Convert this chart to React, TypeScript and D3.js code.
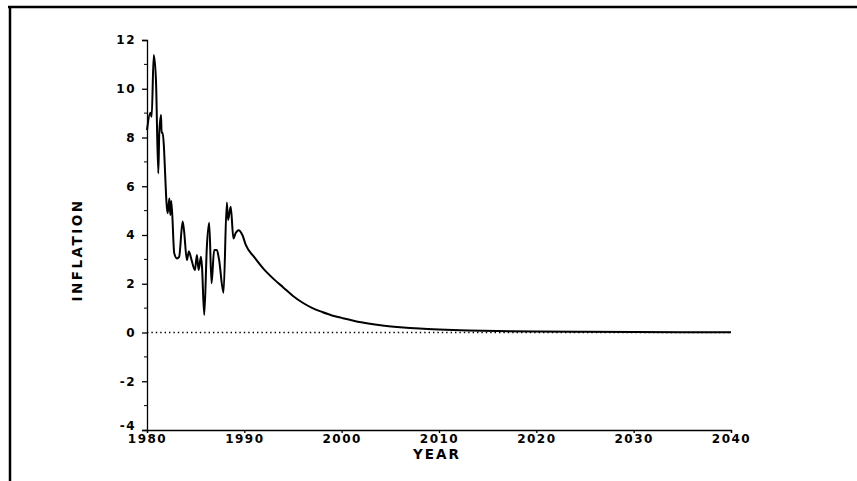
import React, { useEffect, useRef } from "react";
import * as d3 from "d3";

// year (decimal) and inflation readings
const years = [
  1980.0, 1980.34, 1980.48, 1980.69, 1980.92, 1981.16, 1981.26, 1981.44, 1981.5, 1981.6,
  1982.12, 1982.3, 1982.4, 1982.5, 1982.8, 1983.08, 1983.3, 1983.66, 1983.8, 1984.1,
  1984.3, 1984.58, 1984.92, 1985.13, 1985.3, 1985.54, 1985.65, 1985.88, 1986.15, 1986.39,
  1986.63, 1986.9, 1987.18, 1987.4, 1987.86, 1988.2, 1988.33, 1988.6, 1988.88, 1989.1,
  1989.4, 1989.8, 1990.15, 1991, 1992, 1993, 1994, 1995, 1996, 1997,
  1998, 1999, 2000, 2002, 2004, 2006, 2008, 2010, 2013, 2016,
  2020, 2025, 2030, 2035, 2040,
];
const inflation = [
  8.3, 9.02, 8.85, 11.38, 10.36, 6.53, 8.17, 8.92, 8.18, 8.2,
  4.89, 5.5, 4.82, 5.4, 3.25, 3.04, 3.1, 4.55, 4.2, 2.97,
  3.32, 2.97, 2.56, 3.18, 2.56, 3.11, 2.7, 0.72, 3.52, 4.5,
  2.02, 3.38, 3.38, 3.0, 1.63, 5.33, 4.62, 5.16, 3.86, 4.07,
  4.2, 4.0, 3.59, 3.1, 2.6, 2.2, 1.85, 1.5, 1.22, 1.0,
  0.84, 0.7, 0.6, 0.42, 0.3, 0.22, 0.16, 0.12, 0.08, 0.06,
  0.04, 0.03, 0.02, 0.015, 0.01,
];
const xTicks = [1980, 1990, 2000, 2010, 2020, 2030, 2040];
const yTicks = [-4, -2, 0, 2, 4, 6, 8, 10, 12];
const yMinor = [-3, -1, 1, 3, 5, 7, 9, 11];

export default function App() {
  const svgRef = useRef<SVGSVGElement>(null);

  useEffect(() => {
    const svg = d3.select(svgRef.current);
    svg.selectAll("*").remove();

    const x = d3.scaleLinear().domain([1980, 2040]).range([147, 731]);
    const y = d3.scaleLinear().domain([-4, 12]).range([430, 40]);
    const font = "'DejaVu Sans', Arial, sans-serif";

    // frame
    svg.append("line").attr("x1", 8).attr("x2", 857).attr("y1", 7).attr("y2", 7)
      .attr("stroke", "#000").attr("stroke-width", 2.5);
    svg.append("line").attr("x1", 10).attr("x2", 10).attr("y1", 6).attr("y2", 481)
      .attr("stroke", "#000").attr("stroke-width", 2.5);

    // zero reference
    svg.append("line").attr("x1", x(1980)).attr("x2", x(2040)).attr("y1", y(0)).attr("y2", y(0))
      .attr("stroke", "#000").attr("stroke-width", 1.4).attr("stroke-dasharray", "1.4,3");

    // y axis
    const yAxis = d3.axisLeft(y).tickValues(yTicks).tickSize(5).tickPadding(6)
      .tickFormat((d) => `${d}`);
    const gy = svg.append("g").attr("transform", `translate(${x(1980)},0)`).call(yAxis);
    gy.select(".domain").attr("stroke-width", 1.3);
    gy.selectAll(".tick line").attr("stroke-width", 1.3);
    gy.selectAll("text").attr("font-family", font).attr("font-weight", "bold")
      .attr("font-size", 12).attr("letter-spacing", 1.5)
      .attr("dy", (d: any) => (d === -4 ? "-0.08em" : "0.32em"));
    gy.selectAll(".minor").data(yMinor).enter().append("line")
      .attr("x1", -3).attr("x2", 0).attr("y1", (d) => y(d)).attr("y2", (d) => y(d))
      .attr("stroke", "#000").attr("stroke-width", 1);

    // x axis
    const xAxis = d3.axisBottom(x).tickValues(xTicks).tickSize(3).tickPadding(1)
      .tickFormat((d) => `${d}`);
    const gx = svg.append("g").attr("transform", `translate(0,${y(-4)})`).call(xAxis);
    gx.select(".domain").attr("stroke-width", 1.3);
    gx.selectAll(".tick line").attr("stroke-width", 1.3);
    gx.selectAll("text").attr("font-family", font).attr("font-weight", "bold")
      .attr("font-size", 12).attr("letter-spacing", 1.5);

    // axis titles
    svg.append("text").attr("x", x(2010) - 2).attr("y", 459).attr("text-anchor", "middle")
      .attr("font-family", font).attr("font-weight", "bold").attr("font-size", 13.5)
      .attr("letter-spacing", 2).text("YEAR");
    svg.append("text").attr("transform", `translate(82,250) rotate(-90)`)
      .attr("text-anchor", "middle").attr("font-family", font).attr("font-weight", "bold")
      .attr("font-size", 13.5).attr("letter-spacing", 2.5).text("INFLATION");

    // series
    const pts = years.map((yr, i) => [yr, inflation[i]] as [number, number]);
    const line = d3.line<[number, number]>().x((d) => x(d[0])).y((d) => y(d[1]))
      .curve(d3.curveMonotoneX);
    svg.append("path").attr("d", line(pts)).attr("fill", "none")
      .attr("stroke", "#000").attr("stroke-width", 2).attr("stroke-linejoin", "round");
  }, []);

  return (
    <svg ref={svgRef} width={857} height={481}
      style={{ position: "absolute", left: 0, top: 0, background: "#fff" }} />
  );
}
